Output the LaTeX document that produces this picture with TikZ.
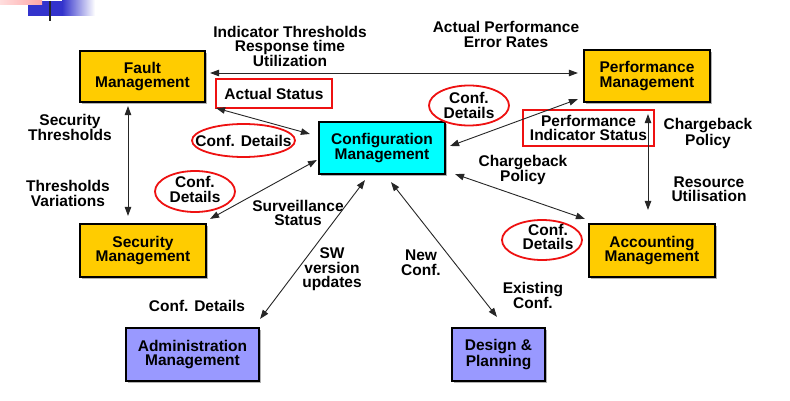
\documentclass[tikz,border=0pt]{standalone}
\usepackage{fontspec}
\setmainfont{Liberation Sans}
\usetikzlibrary{arrows.meta,calc,shapes.geometric}
\definecolor{yel}{HTML}{FFCC00}
\definecolor{cyn}{HTML}{00FFFF}
\definecolor{lav}{HTML}{9999FF}
\definecolor{redl}{HTML}{EE1111}
\definecolor{slideblue}{HTML}{3333CC}
\definecolor{slidepink}{HTML}{FF9090}
\begin{document}
\begin{tikzpicture}[x=1pt,y=-1pt,
  >={Triangle[length=9pt,width=6.5pt]},
  every node/.style={font=\fontsize{15.5}{14.5}\selectfont\bfseries, align=center, inner sep=0pt},
  box/.style={draw=black, line width=2.2pt, preaction={fill=black!30, transform canvas={xshift=1.6pt,yshift=-1.6pt}}},
  redrect/.style={draw=redl, line width=1.8pt},
  ell/.style={ellipse, draw=redl, line width=1.8pt},
  conn/.style={<->, line width=0.9pt, draw=black!85}]
\fill[white] (0,0) rectangle (790,400);
% slide decoration
\fill[slideblue] (28,0) rectangle (62,15);
\shade[left color=slideblue, right color=white] (62,0) rectangle (95,15);
\shade[left color=slidepink!30, right color=slidepink!80] (0,0) rectangle (42,4);
\draw[line width=2pt, black!85] (49.5,0) -- (49.5,20);

% boxes
\node[box, fill=yel, minimum width=125pt, minimum height=51pt] (fault) at (142.5,75.5) {Fault\\Management};
\node[box, fill=cyn, minimum width=126pt, minimum height=52pt] (config) at (382,147) {Configuration\\Management};
\node[box, fill=yel, minimum width=126pt, minimum height=52pt] (perf) at (647,75) {Performance\\Management};
\node[box, fill=yel, minimum width=126pt, minimum height=53pt] (sec) at (143,249.5) {Security\\Management};
\node[box, fill=yel, minimum width=126pt, minimum height=53pt] (acc) at (652,249.5) {Accounting\\Management};
\node[box, fill=lav, minimum width=133pt, minimum height=53pt] (adm) at (192.5,353.5) {Administration\\Management};
\node[box, fill=lav, minimum width=93pt, minimum height=53pt] (des) at (498.5,353.5) {Design \&\\Planning};

% red highlights
\node[redrect, minimum width=116pt, minimum height=29pt] (as) at (274,92.5) {Actual Status};
\node[redrect, minimum width=131pt, minimum height=36pt] (pis) at (588.5,127) {Performance\\Indicator Status};
\node[ell, minimum width=80pt, minimum height=40pt] (e1) at (469,104.5) {};
\node (t1) at (469,104.5) {Conf.\\Details};
\node[ell, minimum width=103pt, minimum height=33pt] (e2) at (243.5,139.5) {};
\node (t2) at (243.5,139.5) {Conf. Details};
\node[ell, minimum width=80pt, minimum height=41pt] (e3) at (195,190.5) {};
\node (t3) at (195,188.5) {Conf.\\Details};
\node[ell, minimum width=80pt, minimum height=40pt] (e4) at (542,239) {};
\node (t4) at (548,236) {Conf.\\Details};

% labels
\node (l1) at (290,45) {Indicator Thresholds\\Response time\\Utilization};
\node (l2) at (506,33.5) {Actual Performance\\Error Rates};
\node (l3) at (70,126.5) {Security\\Thresholds};
\node (l4) at (68,192.5) {Thresholds\\Variations};
\node (l5) at (298,212) {Surveillance\\Status};
\node (l6) at (332,268.5) {SW\\version\\updates};
\node (l7) at (421,261.5) {New\\Conf.};
\node (l8) at (533,294.5) {Existing\\Conf.};
\node (l9) at (197,305) {Conf. Details};
\node (l10) at (523,169) {Chargeback\\Policy};
\node (l11) at (708,132.5) {Chargeback\\Policy};
\node (l12) at (709,188) {Resource\\Utilisation};

% connectors
\draw[conn] ($(fault.east)+(4,-3.5)$) -- ($(perf.west)+(-5,-3)$);
\draw[conn] ($(fault.south east)+(10,5)$) -- ($(config.west)+(-8,-14)$);
\draw[conn] ($(perf.south west)+(-5,-4)$) -- ($(config.east)+(4,-2)$);
\draw[conn] ($(config.south east)+(9,-1)$) -- ($(acc.north west)+(-3,-4)$);
\draw[conn] ($(config.west)+(-1,12)$) -- ($(sec.north east)+(3,-4)$);
\draw[conn] ($(config.south)+(-17,5)$) -- ($(adm.north east)+(0,-8)$);
\draw[conn] ($(config.south)+(9,7)$) -- ($(des.north)+(-1.5,-10)$);
\draw[conn] ($(fault.south)+(-14.5,3)$) -- ($(sec.north)+(-15,-7)$);
\draw[conn] ($(perf.south)+(1,11)$) -- ($(acc.north)+(-4,-13)$);
\end{tikzpicture}
\end{document}
